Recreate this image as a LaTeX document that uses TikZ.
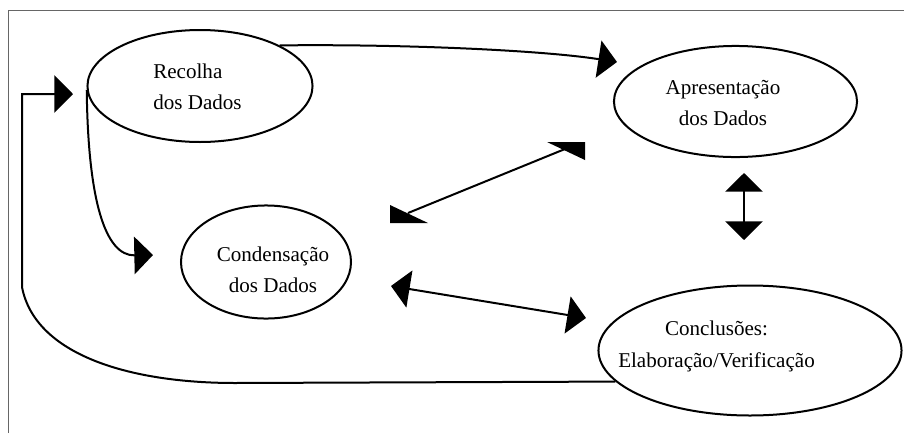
\documentclass[tikz,border=0pt]{standalone}
\usepackage{fontspec}
\setmainfont{Liberation Serif}
\usetikzlibrary{shapes.geometric,arrows.meta}
\begin{document}
\begin{tikzpicture}[x=0.75pt,y=-0.75pt,
    etapa/.style={draw,ellipse,line width=1.5pt,inner sep=0pt},
    rotulo/.style={align=center,inner sep=0pt,font=\fontsize{15.8}{23.3}\selectfont},
    seta/.style={line width=1.5pt,-{Triangle[length=14pt,width=28pt]}},
    setadupla/.style={line width=1.5pt,{Triangle[length=14pt,width=28pt]}-{Triangle[length=14pt,width=28pt]}}]
    \useasboundingbox (0,0) rectangle (904,433);
    % Moldura
    \draw [black!60,line width=0.75pt] (8,433)--(8,10)--(904,10);

    % Etapas
    \node [etapa,minimum width=168.8pt,minimum height=84pt] (recolha) at (200,86) {};
    \node [etapa,minimum width=182.3pt,minimum height=83.3pt] (apresentacao) at (735.5,101.5) {};
    \node [etapa,minimum width=127.5pt,minimum height=84.8pt] (condensacao) at (266,262) {};
    \node [etapa,minimum width=227.3pt,minimum height=97.5pt] (conclusoes) at (750,350.5) {};

    \node [rotulo,align=left] (recolhatxt) at (197.5,86.7) {Recolha\\dos Dados};
    \node [rotulo] (apresentacaotxt) at (723,102.7) {Apresentação\\dos Dados};
    \node [rotulo] (condensacaotxt) at (273,270) {Condensação\\dos Dados};
    \node [rotulo] (conclusoestxt) at (716.5,346.4) {Conclusões:\\Elaboração/Verificação};

    % Pontas das setas
    \coordinate (apresE) at (617,62);
    \coordinate (condE) at (153,255);
    \coordinate (recolhaE) at (73,94);
    \coordinate (condD) at (391,286);
    \coordinate (conclD) at (586,318);
    \coordinate (apresV) at (744,173);
    \coordinate (conclV) at (744,240);
    \coordinate (condA) at (408,213);
    \coordinate (apresA) at (565,149);

    \draw [seta] (recolha.27) .. controls (400,44) and (540,50) .. (apresE);
    \draw [seta] (recolha.182) .. controls (88,200) and (105,256) .. (condE);
    \draw [seta] (conclusoes.193) -- (235,383) .. controls (130,383) and (35,355) .. (22,287) -- (22,94) -- (recolhaE);
    \draw [setadupla] (condD) -- (conclD);
    \draw [setadupla] (apresV) -- (conclV);
    \draw [line width=1.5pt] (condA) -- (apresA);
    \fill (390,205) -- (390,223) -- (428,223) -- cycle;
    \fill (547,142) -- (585,142) -- (585,160) -- cycle;
\end{tikzpicture}
\end{document}
